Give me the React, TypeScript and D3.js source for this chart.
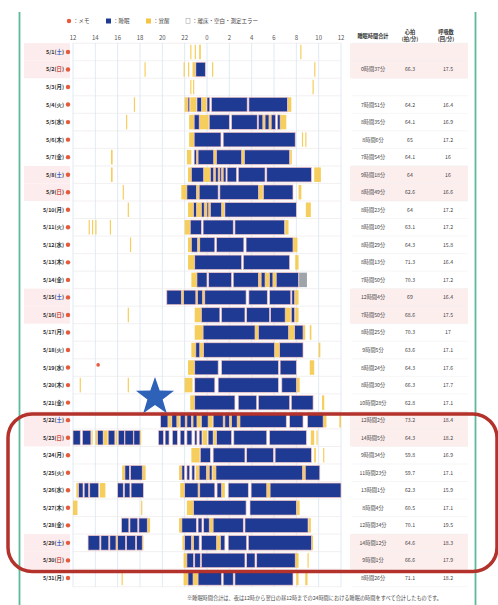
import React from "react";
import * as d3 from "d3";

type Seg = [number, number];

const days = ["5/1(土)","5/2(日)","5/3(月)","5/4(火)","5/5(水)","5/6(木)","5/7(金)","5/8(土)","5/9(日)","5/10(月)","5/11(火)","5/12(水)","5/13(木)","5/14(金)","5/15(土)","5/16(日)","5/17(月)","5/18(火)","5/19(水)","5/20(木)","5/21(金)","5/22(土)","5/23(日)","5/24(月)","5/25(火)","5/26(水)","5/27(木)","5/28(金)","5/29(土)","5/30(日)","5/31(月)"];

const tickHours = [0, 2, 4, 6, 8, 10, 12, 14, 16, 18, 20, 22, 24];
const tickLabels = ["12","14","16","18","20","22","0","2","4","6","8","10","12"];

// hours counted from 12:00 (noon) of the previous day
const sleepSegs: Seg[][] = [
  [],
  [[11.0,11.85]],
  [],
  [[10.3,10.45],[11.1,11.5],[12.0,12.25],[12.4,15.6],[15.75,19.2]],
  [[10.85,11.3],[12.2,14.0],[14.2,16.5],[16.6,17.0],[17.2,17.55],[17.75,18.15],[18.3,18.55]],
  [[10.85,13.25],[13.45,19.9]],
  [[10.85,11.05],[11.2,12.6],[12.85,15.1],[15.35,19.4]],
  [[10.6,11.7],[12.3,12.6],[12.75,13.0],[13.15,13.3],[13.45,13.7],[13.8,14.65],[14.8,17.2],[17.35,21.35]],
  [[10.2,11.05],[11.3,13.0],[13.15,16.6],[17.05,19.7]],
  [[10.8,11.05],[11.5,11.75],[12.0,12.15],[12.3,13.3],[13.6,20.0]],
  [[10.5,11.5],[11.65,14.35],[14.5,18.95]],
  [[10.6,11.15],[11.35,12.7],[12.85,15.3],[15.5,19.7]],
  [[10.9,15.1],[15.25,19.4]],
  [[11.1,12.0],[12.15,14.2],[14.35,16.6],[16.85,17.2],[17.6,17.9],[18.2,20.2]],
  [[8.4,9.7],[9.9,11.0],[11.15,11.6],[11.8,15.5],[15.75,17.4],[17.6,19.5],[19.6,19.85]],
  [[11.5,13.15],[13.3,15.4],[15.55,17.6],[17.7,19.0],[19.55,19.85]],
  [[11.65,16.3],[16.6,19.3],[19.85,20.6]],
  [[11.0,11.35],[11.7,18.05],[18.5,20.6]],
  [[10.9,13.0],[13.3,18.4],[18.55,20.0]],
  [[10.9,12.7],[13.0,18.4],[18.7,20.0]],
  [[10.9,14.5],[14.8,16.45],[16.6,19.4],[19.55,21.5]],
  [[7.85,8.5],[8.85,9.3],[9.6,10.05],[10.2,10.6],[10.75,11.1],[11.5,12.1],[12.55,13.45],[13.6,14.0],[14.2,14.7],[14.95,19.1],[19.4,20.6],[21.0,22.4]],
  [[0.0,0.65],[0.85,1.6],[2.2,2.7],[3.15,3.75],[4.05,4.6],[4.65,5.4],[5.45,6.0],[7.65,8.1],[8.25,8.6],[8.9,9.35],[9.6,10.0],[10.2,10.65],[10.9,11.1],[11.3,11.55],[12.1,12.55],[12.85,14.2],[14.4,17.35],[17.6,20.9]],
  [[11.4,12.3],[12.55,15.4],[15.55,17.95],[18.1,21.35]],
  [[4.65,5.05],[5.15,6.2],[9.75,10.0],[10.2,10.45],[10.65,10.9],[11.3,11.95],[12.2,12.45],[12.8,20.55],[20.8,22.1]],
  [[0.5,0.9],[1.0,1.4],[1.5,2.3],[4.0,4.5],[4.6,5.1],[5.2,6.3],[10.0,11.2],[11.35,12.7],[12.9,13.3],[13.9,15.7],[15.95,17.35],[17.65,24.0]],
  [[10.8,15.5],[15.85,20.0]],
  [[4.35,5.0],[5.1,5.8],[5.9,6.65],[9.75,11.05],[11.2,11.55],[11.7,12.2],[12.55,15.25],[15.4,21.05]],
  [[1.35,2.4],[2.5,3.2],[3.3,3.85],[4.0,4.7],[4.8,5.6],[5.7,6.2],[10.0,10.6],[10.8,11.3],[11.5,12.85],[13.2,13.6],[13.9,15.55],[15.7,21.35]],
  [[10.2,10.8],[10.9,11.4],[11.5,15.4],[15.55,16.3],[16.45,19.9]],
  [[10.3,10.75],[11.2,13.3],[13.45,14.35],[14.5,19.7]],
];

const awakeSegs: Seg[][] = [
  [[10.5,10.6],[10.9,11.0],[11.3,11.45],[20.35,20.45]],
  [[6.4,6.5],[9.9,10.0],[10.3,10.4],[10.7,10.95],[12.45,12.55],[21.6,21.7]],
  [[10.5,10.6],[10.75,10.85],[21.45,21.55]],
  [[5.45,5.55],[10.0,10.3],[10.5,11.05],[11.55,11.95],[19.25,19.55]],
  [[4.75,4.85],[10.4,10.85],[11.3,12.15],[17.0,17.2],[17.55,17.75],[18.55,19.1]],
  [[10.4,10.85],[20.5,20.6],[20.8,20.9]],
  [[3.4,3.55],[10.2,10.6],[11.05,11.2],[12.6,12.85],[15.1,15.35],[19.45,19.6]],
  [[3.4,3.55],[10.3,10.6],[11.7,12.3],[12.6,12.75],[13.0,13.15],[13.3,13.45],[21.6,22.2]],
  [[4.45,4.55],[9.7,10.2],[11.05,11.3],[16.6,17.0],[20.2,20.45]],
  [[4.9,5.0],[10.3,10.8],[11.05,11.5],[11.75,12.0],[12.15,12.3],[13.3,13.55],[20.85,21.3]],
  [[1.4,1.5],[1.7,1.8],[2.0,2.1],[3.3,3.4],[10.0,10.5],[19.0,19.3]],
  [[5.1,5.2],[10.3,10.6],[11.15,11.35],[19.7,20.1]],
  [[10.3,10.9],[19.9,20.2]],
  [[10.6,11.1],[16.6,16.85],[17.2,17.6],[17.9,18.2]],
  [[9.7,9.9],[11.0,11.15],[11.6,11.8],[19.85,20.2]],
  [[4.9,5.0],[10.9,11.5],[19.0,19.5],[19.9,20.2]],
  [[10.9,11.65],[16.3,16.6],[19.3,19.85],[20.6,20.8],[21.2,21.35]],
  [[10.6,11.0],[11.35,11.7],[18.05,18.5],[22.0,22.15]],
  [[10.3,10.9],[21.2,21.6]],
  [[0.6,0.7],[4.9,5.0],[10.0,10.7],[20.0,20.3]],
  [[10.5,10.9],[22.3,22.5]],
  [[8.5,8.8],[9.3,9.55],[10.05,10.2],[10.6,10.75],[11.1,11.45],[12.1,12.5],[13.45,13.6],[14.0,14.2],[14.7,14.95],[22.4,22.7],[23.85,24.0]],
  [[1.65,1.75],[2.0,2.15],[2.75,3.1],[3.8,3.95],[6.0,6.1],[11.6,12.0],[12.6,12.8],[21.3,21.6],[21.8,21.9]],
  [[10.6,11.35],[21.6,21.75],[22.4,22.5]],
  [[4.4,4.65],[6.2,6.5],[9.5,9.75],[11.0,11.3],[12.0,12.2],[12.5,12.8],[20.55,20.8]],
  [[0.3,0.5],[2.4,2.9],[9.6,10.0],[11.2,11.35],[13.3,13.6],[17.35,17.65]],
  [[0.0,0.4],[6.1,6.2],[10.2,10.8],[20.05,20.3]],
  [[6.65,6.9],[9.5,9.75],[12.2,12.55],[21.1,21.3]],
  [[3.85,4.0],[6.2,6.3],[9.8,10.0],[10.6,10.8],[12.85,13.2],[21.35,21.5]],
  [[9.9,10.2],[19.9,20.2],[21.0,21.1]],
  [[4.35,4.45],[9.9,10.3],[10.75,11.2],[20.0,20.2],[20.8,21.0]],
];

const errorSegs: { row: number; seg: Seg }[] = [{ row: 13, seg: [20.25, 20.95] }];

const memoNotes: { hour: number; rowPos: number }[] = [{ hour: 2.25, rowPos: 18.35 }];

const totalSleep = [null,"0時間37分",null,"7時間51分","8時間35分","8時間6分","7時間54分","9時間18分","8時間49分","8時間23分","8時間10分","8時間29分","8時間13分","7時間50分","12時間4分","7時間50分","8時間25分","9時間5分","8時間24分","8時間30分","10時間28分","12時間2分","14時間5分","9時間34分","11時間23分","13時間1分","8時間4分","12時間34分","14時間12分","9時間1分","8時間26分"];
const heartRate = [null,"66.3",null,"64.2","64.1","65","64.1","64","62.6","64","63.1","64.3","71.3","70.3","69","68.6","70.3","63.6","64.3","66.3","62.8","73.2","64.3","59.8","59.7","62.3","60.5","70.1","64.6","66.6","71.1"];
const respRate = [null,"17.5",null,"16.4","16.9","17.2","16","16","16.6","17.2","17.2","15.8","16.4","17.2","16.4","17.5","17","17.1","17.6","17.7","17.1","18.4","18.2","16.9","17.1","15.9","17.1","19.5","18.3","17.9","18.2"];

const FONT = "'Noto Sans CJK JP', 'Noto Sans', sans-serif";

export default function App() {
  const W = 498, H = 605;
  const x = d3.scaleLinear().domain([0, 24]).range([73, 341]);
  const y = d3.scaleBand<string>().domain(days).range([43.2, 586.7]).paddingInner(0);
  const step = y.step();
  const barH = 14.5;
  const off = (step - barH) / 2;
  const weekend = (d: string) => d.includes("土") || d.includes("日");
  const rowY = (i: number) => (y(days[i]) as number);

  const starPath = (cx: number, cy: number, R: number, r: number) => {
    const pts: string[] = [];
    for (let k = 0; k < 10; k++) {
      const a = -Math.PI / 2 + (k * Math.PI) / 5;
      const rad = k % 2 === 0 ? R : r;
      pts.push(`${cx + rad * Math.cos(a)},${cy + rad * Math.sin(a)}`);
    }
    return "M" + pts.join("L") + "Z";
  };

  return (
    <svg width={W} height={H} style={{ position: "absolute", left: 0, top: 0, background: "#fff" }} fontFamily={FONT}>
      <rect x={0} y={0} width={W} height={H} fill="#fff" />
      {/* green side rules */}
      <line x1={19.5} x2={19.5} y1={12} y2={H} stroke="#5db999" strokeWidth={1.8} />
      <line x1={475.5} x2={475.5} y1={12} y2={H} stroke="#5db999" strokeWidth={1.8} />

      {/* weekend pink backgrounds */}
      {days.map((d, i) =>
        weekend(d) ? (
          <g key={"wk" + i}>
            <rect x={24} y={rowY(i)} width={46} height={step} fill="#fdeced" />
            <rect x={350} y={rowY(i)} width={118} height={step} fill="#fdeeee" />
          </g>
        ) : null
      )}

      {/* legend */}
      <g fontSize={5.5} fill="#444">
        <circle cx={69} cy={21} r={2.2} fill="#e65a3c" />
        <text x={73} y={23}>：メモ</text>
        <rect x={106} y={18.5} width={5} height={5} fill="#1f3a93" />
        <text x={113} y={23}>：睡眠</text>
        <rect x={146} y={18.5} width={5} height={5} fill="#f4c542" />
        <text x={153} y={23}>：覚醒</text>
        <rect x={186} y={18.5} width={4} height={5} fill="#fff" stroke="#999" strokeWidth={0.5} />
        <text x={192} y={23}>：離床・空白・測定エラー</text>
      </g>

      {/* grid */}
      {tickHours.map((h, i) => (
        <line key={"vg" + i} x1={x(h)} x2={x(h)} y1={43} y2={587} stroke="#d5e5f1" strokeWidth={0.8} />
      ))}
      {d3.range(days.length + 1).map((i) => (
        <line key={"hg" + i} x1={73} x2={341} y1={43.2 + i * step} y2={43.2 + i * step} stroke="#ebe6e6" strokeWidth={0.6} />
      ))}
      {d3.range(days.length + 1).map((i) => (
        <line key={"tg" + i} x1={352} x2={468} y1={43.2 + i * step} y2={43.2 + i * step} stroke="#ececec" strokeWidth={0.5} />
      ))}

      {/* axis tick labels */}
      {tickHours.map((h, i) => (
        <text key={"tl" + i} x={x(h)} y={40} fontSize={6} fill="#555" textAnchor="middle">{tickLabels[i]}</text>
      ))}

      {/* table header */}
      <g fontSize={5.2} fill="#333" fontWeight="bold" textAnchor="middle">
        <text x={373} y={38}>睡眠時間合計</text>
        <text x={410} y={34}>心拍</text>
        <text x={410} y={41}>(拍/分)</text>
        <text x={446} y={34}>呼吸数</text>
        <text x={446} y={41}>(回/分)</text>
      </g>

      {/* date labels */}
      {days.map((d, i) => {
        const m = d.match(/^(.*\()(.)(\))$/);
        const wd = m ? m[2] : "";
        const col = wd === "土" ? "#3a62c4" : wd === "日" ? "#d8453a" : "#333";
        return (
          <g key={"dl" + i}>
            <text x={64} y={rowY(i) + step / 2 + 2} fontSize={5.4} fontWeight="bold" textAnchor="end" fill="#333">
              {m ? m[1] : d}
              <tspan fill={col}>{wd}</tspan>
              {m ? m[3] : ""}
            </text>
            <circle cx={68} cy={rowY(i) + step / 2} r={2.2} fill="#e65a3c" />
          </g>
        );
      })}

      {/* awake segments */}
      {awakeSegs.map((segs, i) =>
        segs.map((s, j) => (
          <rect key={`a${i}-${j}`} x={x(s[0])} y={rowY(i) + off} width={Math.max(1.2, x(s[1]) - x(s[0]))} height={barH} fill="#f4c542" opacity={0.85} />
        ))
      )}
      {/* error segments */}
      {errorSegs.map((e, k) => (
        <rect key={"e" + k} x={x(e.seg[0])} y={rowY(e.row) + off} width={x(e.seg[1]) - x(e.seg[0])} height={barH} fill="#9ea4aa" />
      ))}
      {/* sleep segments */}
      {sleepSegs.map((segs, i) =>
        segs.map((s, j) => (
          <rect key={`s${i}-${j}`} x={x(s[0])} y={rowY(i) + off} width={x(s[1]) - x(s[0])} height={barH} fill="#1f3a93" stroke="#f3c4c4" strokeWidth={0.7} />
        ))
      )}

      {/* memo markers */}
      {memoNotes.map((m, k) => (
        <circle key={"m" + k} cx={x(m.hour)} cy={43.2 + m.rowPos * step} r={1.8} fill="#e65a3c" />
      ))}

      {/* table values */}
      {days.map((d, i) => (
        <g key={"tv" + i} fontSize={5.2} fill="#444" textAnchor="middle">
          {totalSleep[i] && <text x={373} y={rowY(i) + step / 2 + 2}>{totalSleep[i]}</text>}
          {heartRate[i] && <text x={410} y={rowY(i) + step / 2 + 2}>{heartRate[i]}</text>}
          {respRate[i] && <text x={448} y={rowY(i) + step / 2 + 2}>{respRate[i]}</text>}
        </g>
      ))}

      {/* star */}
      <path d={starPath(155, 397, 20, 8)} fill="#2d62b8" />

      {/* highlight frame */}
      <rect x={8} y={414} width={489} height={157.5} rx={24} fill="none" stroke="#b3322b" strokeWidth={3.5} />

      {/* footnote */}
      <text x={187} y={600} fontSize={5.2} fill="#444">※睡眠時間合計は、夜は12時から翌日の昼12時までの24時間における睡眠の時間をすべて合計したものです。</text>
    </svg>
  );
}
